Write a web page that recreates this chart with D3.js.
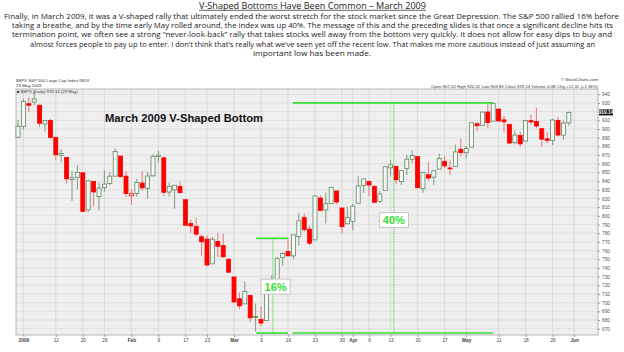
<!DOCTYPE html>
<html><head><meta charset="utf-8">
<script src="https://cdn.jsdelivr.net/npm/d3@7"></script>
<style>html,body{margin:0;padding:0;background:#fff;}svg{display:block;}</style>
</head><body>
<svg id="c" width="624" height="352"></svg>
<script>
// ---- data (S&P 500 daily, 31 Dec 2008 – 29 May 2009) ----
const dates = ["2008-12-31","2009-01-02","2009-01-05","2009-01-06","2009-01-07","2009-01-08","2009-01-09","2009-01-12","2009-01-13","2009-01-14","2009-01-15","2009-01-16","2009-01-20","2009-01-21","2009-01-22","2009-01-23","2009-01-26","2009-01-27","2009-01-28","2009-01-29","2009-01-30","2009-02-02","2009-02-03","2009-02-04","2009-02-05","2009-02-06","2009-02-09","2009-02-10","2009-02-11","2009-02-12","2009-02-13","2009-02-17","2009-02-18","2009-02-19","2009-02-20","2009-02-23","2009-02-24","2009-02-25","2009-02-26","2009-02-27","2009-03-02","2009-03-03","2009-03-04","2009-03-05","2009-03-06","2009-03-09","2009-03-10","2009-03-11","2009-03-12","2009-03-13","2009-03-16","2009-03-17","2009-03-18","2009-03-19","2009-03-20","2009-03-23","2009-03-24","2009-03-25","2009-03-26","2009-03-27","2009-03-30","2009-03-31","2009-04-01","2009-04-02","2009-04-03","2009-04-06","2009-04-07","2009-04-08","2009-04-09","2009-04-13","2009-04-14","2009-04-15","2009-04-16","2009-04-17","2009-04-20","2009-04-21","2009-04-22","2009-04-23","2009-04-24","2009-04-27","2009-04-28","2009-04-29","2009-04-30","2009-05-01","2009-05-04","2009-05-05","2009-05-06","2009-05-07","2009-05-08","2009-05-11","2009-05-12","2009-05-13","2009-05-14","2009-05-15","2009-05-18","2009-05-19","2009-05-20","2009-05-21","2009-05-22","2009-05-26","2009-05-27","2009-05-28","2009-05-29"];
const open = [890.59,902.99,929.17,931.17,927.45,905.73,909.91,890.40,869.79,867.28,841.99,844.45,849.64,806.77,839.74,822.16,832.50,837.30,845.73,868.89,845.69,823.09,825.69,837.77,831.75,846.09,868.24,866.87,827.41,829.91,833.95,818.61,791.06,787.91,775.87,773.25,744.69,770.64,765.76,749.93,729.57,704.44,698.60,708.27,684.04,680.76,679.28,719.59,720.89,751.97,758.84,753.88,776.01,797.92,784.58,772.31,820.60,806.81,814.06,828.68,809.07,790.88,793.59,814.53,835.13,839.75,834.12,816.76,829.29,855.33,856.88,839.44,854.54,865.18,868.27,831.25,847.26,844.62,853.91,862.82,854.48,856.85,876.59,872.74,879.21,906.10,903.95,919.58,909.03,922.99,910.52,905.40,884.24,892.76,886.07,909.67,908.62,900.42,888.68,887.00,909.95,892.96,907.02];
const high = [910.32,934.73,936.63,943.85,927.45,910.00,911.93,890.40,877.02,867.28,851.59,858.13,849.64,841.72,839.74,838.61,852.53,850.45,877.86,868.89,851.66,830.78,842.60,851.85,850.55,870.75,875.01,868.05,838.22,835.48,839.43,818.61,796.17,797.58,778.69,777.85,775.49,780.12,779.42,751.27,729.57,711.67,724.12,708.27,699.09,695.27,719.60,731.92,752.63,758.29,774.53,778.12,803.04,803.24,788.91,823.37,823.65,826.78,832.98,828.68,809.07,810.48,813.62,845.61,842.50,839.75,834.12,828.42,856.91,864.31,856.88,852.93,870.35,875.63,868.27,850.09,861.78,852.87,871.80,868.83,864.48,882.06,888.70,880.48,907.85,907.70,920.28,929.58,930.17,922.99,915.57,905.40,898.36,896.97,910.00,916.39,924.60,900.42,896.65,911.76,913.84,909.45,920.02];
const low = [889.67,899.35,919.53,927.28,902.37,896.81,888.31,864.32,862.02,836.93,817.04,830.66,804.47,804.30,811.29,806.07,827.69,835.40,845.73,844.15,821.67,812.87,821.98,829.18,819.91,845.42,861.65,822.99,822.30,808.06,825.21,789.17,780.43,777.03,754.25,742.37,744.69,752.89,751.75,734.52,699.70,692.30,698.60,677.93,666.79,672.88,679.28,713.85,714.76,742.46,753.37,749.93,765.64,781.82,766.20,772.31,805.48,791.37,814.06,813.43,779.81,790.88,783.32,814.53,826.70,822.79,814.53,814.84,829.29,845.35,836.31,835.58,847.04,860.87,832.39,826.83,840.57,835.45,853.91,854.65,847.12,856.85,868.51,866.10,879.21,897.34,903.95,901.36,909.03,908.68,896.46,882.80,882.52,878.94,886.07,905.22,901.37,879.61,883.75,881.46,891.87,887.60,903.86];
const close = [903.25,931.80,927.45,934.70,906.65,909.73,890.35,870.26,871.79,842.62,843.74,850.12,805.22,840.24,827.50,831.95,836.57,845.71,874.09,845.14,825.88,825.44,838.51,832.23,845.85,868.60,869.89,827.16,833.74,835.19,826.84,789.17,788.42,778.94,770.05,743.33,773.14,764.90,752.83,735.09,700.82,696.33,712.87,682.55,683.38,676.53,719.60,721.36,750.74,756.55,753.89,778.12,794.35,784.04,768.54,822.92,806.12,813.88,832.86,815.94,787.53,797.87,811.08,834.38,842.50,835.48,815.55,825.16,856.56,858.73,841.50,852.06,865.30,869.60,832.39,850.08,843.55,851.92,866.23,857.51,855.16,873.64,872.81,877.52,907.24,903.80,919.53,907.39,929.23,909.24,908.35,883.92,893.07,882.88,909.71,908.13,903.47,888.33,887.00,910.33,893.06,906.83,919.14];

// x-axis tick labels (trading-day index into dates) and y-axis ticks
const xTickIdx = [1,7,12,16,21,26,31,35,40,45,50,55,60,62,65,69,74,79,83,89,94,99,103];
const xTickLabels = ["2009","12","20","26","Feb","9","17","23","Mar","9","16","23","30","Apr","6","13","20","27","May","11","18","26","Jun"];
const xTickBold = ["2009","Feb","Mar","Apr","May","Jun"];
const yTicks = d3.range(670, 941, 10);

// annotations: bracket levels (price) and date-index spans
const lowPrice = 665, rally16Price = 774, rally40Price = 930.17;
const bracket16 = {from: 44.1, to: 50, mid: 47.2, labelAt: 47.7, labelPrice: 718.5, label: "16%"};
const bracket40 = {from: 50.9, to: 88, mid: 69.6, labelAt: 69.6, labelPrice: 795, label: "40%"};

const headTitle = "V-Shaped Bottoms Have Been Common – March 2009";
const headLines = [
 "Finally, in March 2009, it was a V-shaped rally that ultimately ended the worst stretch for the stock market since the Great Depression. The S&P 500 rallied 16% before",
 "taking a breathe, and by the time early May rolled around, the index was up 40%. The message of this and the preceding slides is that once a significant decline hits its",
 "termination point, we often see a strong “never-look-back” rally that takes stocks well away from the bottom very quickly. It does not allow for easy dips to buy and",
 "almost forces people to pay up to enter. I don’t think that’s really what we’ve seen yet off the recent low. That makes me more cautious instead of just assuming an",
 "important low has been made."
];

// ---- layout ----
const svg = d3.select("#c");
const P = {l:16, r:598, t:89, b:335};
const x = d3.scaleLinear().domain([0, dates.length-1]).range([18, 18+5.4*(dates.length-1)]);
const y = d3.scaleLinear().domain([670, 940]).range([328.7, 94.3]);
const font = "'Liberation Sans', Arial, sans-serif";
const lastClose = close[close.length-1];

// header text: one common size for the paragraph, each line stretched to its span
const tf = "'Open Sans', 'Noto Sans', sans-serif";
const lineSpans = [[4,619],[12,613],[12,612],[30,595],[253,371]];
const baseSize = 9;
const nodes = headLines.map((t,i)=>svg.append("text").attr("y",18.8+i*9.3).attr("x",lineSpans[i][0])
  .attr("font-family",tf).attr("font-size",baseSize).attr("fill","#222").text(t));
const fitSize = d3.min(nodes.slice(0,4), (n,i)=>baseSize*(lineSpans[i][1]-lineSpans[i][0])/n.node().getComputedTextLength());
nodes.forEach((n,i)=>n.attr("font-size",fitSize).attr("textLength",lineSpans[i][1]-lineSpans[i][0]).attr("lengthAdjust","spacingAndGlyphs"));
const tt = svg.append("text").attr("x",312.5).attr("y",8.8).attr("text-anchor","middle").attr("font-family",tf)
  .attr("font-size",baseSize).attr("fill","#222").text(headTitle);
const tw = tt.node().getComputedTextLength();
tt.attr("font-size",Math.min(baseSize*1.05, baseSize*227/tw)).attr("textLength",227).attr("lengthAdjust","spacingAndGlyphs");
svg.append("line").attr("x1",199).attr("x2",426).attr("y1",10.3).attr("y2",10.3).attr("stroke","#222").attr("stroke-width",0.7);

// plot background
svg.append("rect").attr("x",P.l).attr("y",P.t).attr("width",P.r-P.l).attr("height",P.b-P.t)
  .attr("fill","#efefef");
// grid
svg.append("g").selectAll("line").data(yTicks).join("line")
  .attr("x1",P.l).attr("x2",P.r).attr("y1",d=>y(d)).attr("y2",d=>y(d))
  .attr("stroke","#dcdcdc").attr("stroke-width",0.8);
svg.append("g").selectAll("line").data(xTickIdx).join("line")
  .attr("x1",d=>x(d)).attr("x2",d=>x(d)).attr("y1",P.t).attr("y2",P.b)
  .attr("stroke","#d4d4d4").attr("stroke-width",0.8);
svg.append("rect").attr("x",P.l).attr("y",P.t).attr("width",P.r-P.l).attr("height",P.b-P.t)
  .attr("fill","none").attr("stroke","#a8a8a8").attr("stroke-width",0.8);

// right axis (the tick hidden behind the last-price label gets no text)
const yAxis = d3.axisRight(y).tickValues(yTicks).tickSize(2)
  .tickFormat(d=>Math.abs(y(d)-y(lastClose))<5 ? "" : d3.format("d")(d));
const ya = svg.append("g").attr("transform",`translate(${P.r},0)`).call(yAxis);
ya.select(".domain").remove();
ya.selectAll("line").attr("stroke","#999");
ya.selectAll("text").attr("font-family",font).attr("font-size",4.8).attr("fill","#555").attr("x",4);

// bottom axis
const xAxis = d3.axisBottom(x).tickValues(xTickIdx).tickSize(2).tickFormat((d,i)=>xTickLabels[i]);
const xa = svg.append("g").attr("transform",`translate(0,${P.b})`).call(xAxis);
xa.select(".domain").remove();
xa.selectAll("line").attr("stroke","#999");
xa.selectAll("text").attr("font-family",font).attr("font-size",4.8).attr("fill","#444").attr("y",4)
  .attr("font-weight",(d,i)=>xTickBold.includes(xTickLabels[i])?"bold":"normal");

// candles
const data = dates.map((d,i)=>({i,o:open[i],h:high[i],l:low[i],c:close[i],pc:i?close[i-1]:open[i]}));
const up = d=>d.c>=d.pc;
const cg = svg.append("g");
cg.selectAll("line").data(data).join("line")
  .attr("x1",d=>x(d.i)).attr("x2",d=>x(d.i)).attr("y1",d=>y(d.h)).attr("y2",d=>y(d.l))
  .attr("stroke",d=>up(d)?"#6f946f":"#e86a6a").attr("stroke-width",0.9);
cg.selectAll("rect").data(data).join("rect")
  .attr("x",d=>x(d.i)-2).attr("width",4)
  .attr("y",d=>y(Math.max(d.o,d.c))).attr("height",d=>Math.max(0.8,Math.abs(y(d.o)-y(d.c))))
  .attr("fill",d=>d.c>=d.o ? "#f6f6f6" : (up(d)?"#4f7f4f":"#ff0000"))
  .attr("stroke",d=>up(d)?"#5f8a5f":"#ff0000").attr("stroke-width",0.8);

// last-price label
svg.append("rect").attr("x",P.r+1).attr("y",y(lastClose)-3).attr("width",14).attr("height",6).attr("fill","#111");
svg.append("text").attr("x",P.r+8).attr("y",y(lastClose)+1.8).attr("text-anchor","middle")
  .attr("font-family",font).attr("font-size",4.8).attr("font-weight","bold").attr("fill","#fff").text(lastClose.toFixed(2));

// chart header texts
const sm = (t,xx,yy,anchor,bold)=>svg.append("text").attr("x",xx).attr("y",yy).attr("text-anchor",anchor||"start")
  .attr("font-family",font).attr("font-size",4.3).attr("fill","#333").attr("font-weight",bold?"bold":"normal").text(t);
sm("$SPX S&P 500 Large Cap Index INDX",16,82);
sm("29-May-2009",16,87);
sm("■ $SPX (Daily) 919.14 (29 May)",17,93);
sm("© StockCharts.com",598,81,"end");
sm("Open 907.02 High 920.02 Low 903.86 Close 919.14 Volume 4.0B Chg +12.31 (+1.36%)",598,87.5,"end");

// chart title
svg.append("text").attr("x",105).attr("y",122).attr("font-family",font).attr("font-weight","bold")
  .attr("font-size",11.8).attr("fill","#111").attr("textLength",158).attr("lengthAdjust","spacingAndGlyphs")
  .text("March 2009 V-Shaped Bottom");

// annotations
const G = "#33dd33";
const ann = svg.append("g").attr("stroke",G);
[[bracket16.from,bracket16.to,rally16Price],[bracket16.from,bracket16.to,lowPrice],
 [bracket40.from,bracket40.to,rally40Price],[bracket40.from,bracket40.to,lowPrice]].forEach(([a,b,p])=>{
  ann.append("line").attr("x1",x(a)).attr("x2",x(b)).attr("y1",y(p)).attr("y2",y(p)).attr("stroke-width",1.6);
});
[[bracket16.mid,rally16Price],[bracket40.mid,rally40Price]].forEach(([m,p])=>{
  ann.append("line").attr("x1",x(m)).attr("x2",x(m)).attr("y1",y(p)).attr("y2",y(lowPrice))
   .attr("stroke-width",1.1).attr("stroke-dasharray","1,1");
});
[bracket16,bracket40].forEach(b=>{
  const cx = x(b.labelAt), cy = y(b.labelPrice);
  svg.append("rect").attr("x",cx-14.5).attr("y",cy-7.5).attr("width",29).attr("height",15)
    .attr("fill","#fff").attr("stroke","#b8b8b8").attr("stroke-width",0.8);
  svg.append("text").attr("x",cx).attr("y",cy+4).attr("text-anchor","middle")
    .attr("font-family",font).attr("font-weight","bold").attr("font-size",11).attr("fill",G).text(b.label);
});
</script>
</body></html>
